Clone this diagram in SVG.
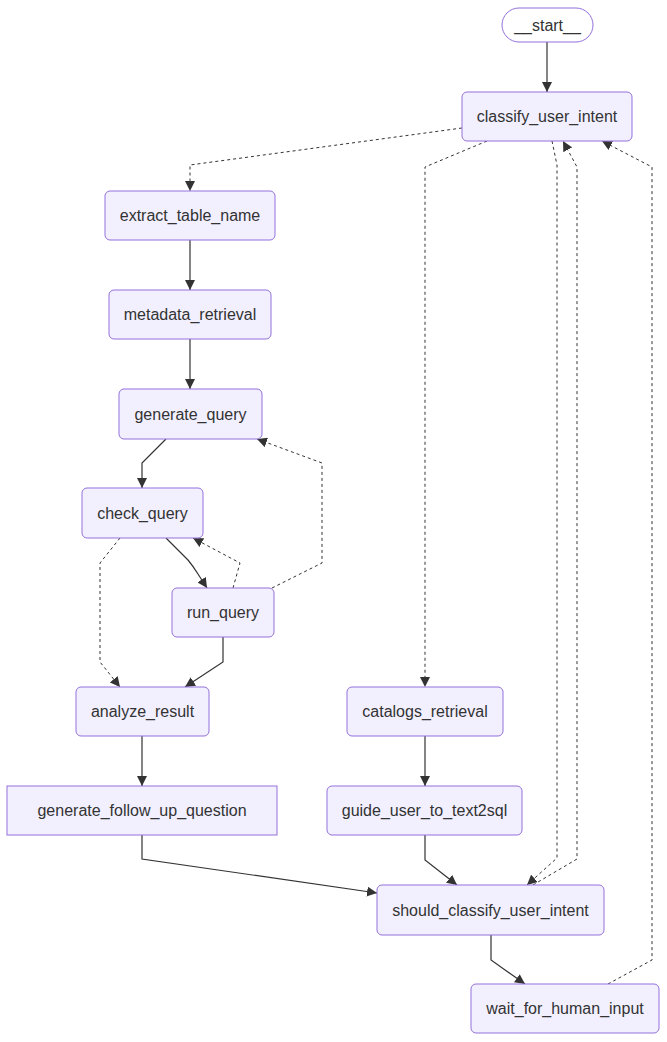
<svg xmlns="http://www.w3.org/2000/svg" width="667" height="1042" viewBox="0 0 667 1042">
<defs>
<marker id="arr" viewBox="0 0 10 10" refX="10" refY="5" markerWidth="10" markerHeight="10" markerUnits="userSpaceOnUse" orient="auto">
<path d="M0,0 L10,5 L0,10 z" fill="#333333"/>
</marker>
</defs>
<style>
.node rect{fill:#f2f0ff;stroke:#9370DB;stroke-width:1}
.node text{font-family:"Liberation Sans",Arial,sans-serif;font-size:16px;fill:#333333;text-anchor:middle;dominant-baseline:central}
.e{fill:none;stroke:#333333;stroke-width:1.2;marker-end:url(#arr)}
.d{stroke-dasharray:3 3;stroke-width:1}
</style>
<rect width="667" height="1042" fill="#ffffff"/>
<g id="edges">
<polyline class="e" points="547,42 547,92"/>
<polyline class="e d" points="462,128 190,165 190,191"/>
<polyline class="e d" points="487,141 425,167 425,687"/>
<polyline class="e" points="190,240 190,290"/>
<polyline class="e" points="190,339 190,389"/>
<polyline class="e" points="166,439 142,463 142,488"/>
<path class="e" d="M166,538 L188,560 Q193,566 198,574 L207,588"/>
<polyline class="e d" points="233,588 240,563 193,538"/>
<polyline class="e d" points="272,588 322,563 322,463 257,439"/>
<polyline class="e d" points="120,538 100,563 100,662 120,687"/>
<polyline class="e" points="223,637 223,662 185,687"/>
<polyline class="e" points="142,736 142,786"/>
<polyline class="e" points="142,835 142,859 377,893"/>
<polyline class="e" points="425,736 425,786"/>
<polyline class="e" points="425,835 425,860 457,885"/>
<polyline class="e d" points="552,141 557,165 557,858 527,885"/>
<polyline class="e d" points="533,885 577,859 577,167 563,141"/>
<polyline class="e d" points="608,984 652,960 652,167 602,141"/>
<polyline class="e" points="491,935 491,960 525,984"/>
</g>
<g id="start" class="node"><rect x="502" y="8" width="91" height="34" rx="17" ry="17" style="fill:#ffffff"/><text x="547.5" y="25">__start__</text></g>
<g id="classify_user_intent" class="node"><rect x="462" y="92" width="170" height="49" rx="5"/><text x="547" y="116.5">classify_user_intent</text></g>
<g id="extract_table_name" class="node"><rect x="105" y="191" width="170" height="49" rx="5"/><text x="190" y="215.5">extract_table_name</text></g>
<g id="metadata_retrieval" class="node"><rect x="109" y="290" width="162" height="49" rx="5"/><text x="190" y="314.5">metadata_retrieval</text></g>
<g id="generate_query" class="node"><rect x="119" y="389" width="143" height="50" rx="5"/><text x="190.5" y="414">generate_query</text></g>
<g id="check_query" class="node"><rect x="82" y="488" width="121" height="50" rx="5"/><text x="142.5" y="513">check_query</text></g>
<g id="run_query" class="node"><rect x="172" y="588" width="102" height="49" rx="5"/><text x="223" y="612.5">run_query</text></g>
<g id="analyze_result" class="node"><rect x="76" y="687" width="133" height="49" rx="5"/><text x="142.5" y="711.5">analyze_result</text></g>
<g id="catalogs_retrieval" class="node"><rect x="347" y="687" width="156" height="49" rx="5"/><text x="425" y="711.5">catalogs_retrieval</text></g>
<g id="generate_follow_up_question" class="node"><rect x="7" y="786" width="270" height="49"/><text x="142" y="810.5">generate_follow_up_question</text></g>
<g id="guide_user_to_text2sql" class="node"><rect x="327" y="786" width="195" height="49" rx="5"/><text x="424.5" y="810.5">guide_user_to_text2sql</text></g>
<g id="should_classify_user_intent" class="node"><rect x="377" y="885" width="227" height="50" rx="5"/><text x="490.5" y="910">should_classify_user_intent</text></g>
<g id="wait_for_human_input" class="node"><rect x="471" y="984" width="188" height="49" rx="5"/><text x="565" y="1008.5">wait_for_human_input</text></g>
</svg>
